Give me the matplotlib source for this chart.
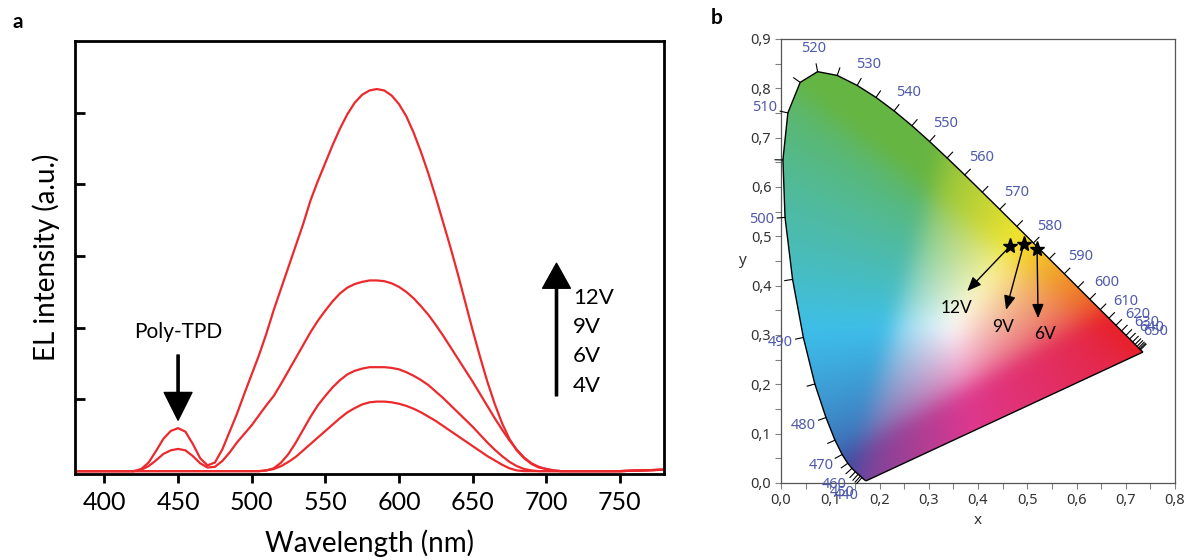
import numpy as np
import matplotlib
matplotlib.use("Agg")
import matplotlib.pyplot as plt
from matplotlib.patches import Polygon
from matplotlib.ticker import MultipleLocator, FuncFormatter

# ---- panel a: EL spectra at several drive voltages ----
WL = [380, 400] + list(range(420, 721, 5)) + [750, 780]

EL_12V = [0.00, 0.00, 0.00, 0.03, 0.12, 0.28, 0.45, 0.56, 0.60, 0.55,
          0.38, 0.18, 0.08, 0.12, 0.30, 0.55, 0.80, 1.08, 1.35, 1.62,
          1.92, 2.25, 2.55, 2.85, 3.15, 3.45, 3.78, 4.05, 4.30, 4.55,
          4.78, 4.98, 5.14, 5.25, 5.31, 5.33, 5.31, 5.24, 5.12, 4.95,
          4.72, 4.45, 4.15, 3.82, 3.47, 3.12, 2.75, 2.36, 1.97, 1.60,
          1.25, 0.94, 0.67, 0.45, 0.29, 0.18, 0.10, 0.05, 0.03, 0.01,
          0.00, 0.00, 0.00, 0.00, 0.02]
EL_9V = [0.00, 0.00, 0.00, 0.02, 0.07, 0.15, 0.24, 0.29, 0.31, 0.29,
         0.21, 0.11, 0.05, 0.06, 0.14, 0.26, 0.40, 0.52, 0.64, 0.78,
         0.92, 1.05, 1.22, 1.40, 1.58, 1.76, 1.94, 2.10, 2.24, 2.37,
         2.48, 2.56, 2.61, 2.64, 2.66, 2.66, 2.65, 2.62, 2.57, 2.50,
         2.41, 2.30, 2.18, 2.04, 1.89, 1.73, 1.57, 1.41, 1.25, 1.08,
         0.91, 0.74, 0.58, 0.43, 0.30, 0.19, 0.11, 0.06, 0.03, 0.01,
         0.00, 0.00, 0.00, 0.00, 0.02]
EL_6V = [0.00, 0.00, 0.00, 0.00, 0.00, 0.00, 0.00, 0.00, 0.00, 0.00,
         0.00, 0.00, 0.00, 0.00, 0.00, 0.00, 0.00, 0.00, 0.00, 0.00,
         0.01, 0.04, 0.12, 0.24, 0.40, 0.58, 0.76, 0.92, 1.05, 1.17,
         1.27, 1.35, 1.40, 1.43, 1.45, 1.45, 1.45, 1.44, 1.42, 1.38,
         1.33, 1.27, 1.20, 1.11, 1.02, 0.92, 0.82, 0.72, 0.62, 0.51,
         0.40, 0.30, 0.21, 0.13, 0.07, 0.03, 0.01, 0.00, 0.00, 0.00,
         0.00, 0.00, 0.00, 0.00, 0.02]
EL_4V = [0.00, 0.00, 0.00, 0.00, 0.00, 0.00, 0.00, 0.00, 0.00, 0.00,
         0.00, 0.00, 0.00, 0.00, 0.00, 0.00, 0.00, 0.00, 0.00, 0.00,
         0.01, 0.03, 0.07, 0.13, 0.20, 0.29, 0.38, 0.47, 0.56, 0.65,
         0.74, 0.82, 0.88, 0.93, 0.96, 0.97, 0.97, 0.96, 0.94, 0.91,
         0.87, 0.82, 0.76, 0.70, 0.63, 0.56, 0.49, 0.42, 0.35, 0.28,
         0.21, 0.15, 0.09, 0.04, 0.01, 0.00, 0.00, 0.00, 0.00, 0.00,
         0.00, 0.00, 0.00, 0.00, 0.02]
VOLTAGES = ["12V", "9V", "6V", "4V"]

# ---- panel b: CIE 1931 spectral locus (nm, x, y) ----
LOCUS_NM = [380, 385, 390, 395, 400, 405, 410, 415, 420, 425, 430, 435,
            440, 445, 450, 455, 460, 465, 470, 475, 480, 485, 490, 495,
            500, 505, 510, 515, 520, 525, 530, 535, 540, 545, 550, 555,
            560, 565, 570, 575, 580, 585, 590, 595, 600, 605, 610, 615,
            620, 625, 630, 635, 640, 645, 650, 655, 660, 665, 670, 675,
            680, 685, 690, 695, 700]
LOCUS_X = [0.1741, 0.1740, 0.1738, 0.1736, 0.1733, 0.1730, 0.1726, 0.1721,
           0.1714, 0.1703, 0.1689, 0.1669, 0.1644, 0.1611, 0.1566, 0.1510,
           0.1440, 0.1355, 0.1241, 0.1096, 0.0913, 0.0687, 0.0454, 0.0235,
           0.0082, 0.0039, 0.0139, 0.0389, 0.0743, 0.1142, 0.1547, 0.1929,
           0.2296, 0.2658, 0.3016, 0.3373, 0.3731, 0.4087, 0.4441, 0.4788,
           0.5125, 0.5448, 0.5752, 0.6029, 0.6270, 0.6482, 0.6658, 0.6801,
           0.6915, 0.7006, 0.7079, 0.7140, 0.7190, 0.7230, 0.7260, 0.7283,
           0.7300, 0.7311, 0.7320, 0.7327, 0.7334, 0.7340, 0.7344, 0.7346,
           0.7347]
LOCUS_Y = [0.0050, 0.0050, 0.0049, 0.0049, 0.0048, 0.0048, 0.0048, 0.0048,
           0.0051, 0.0058, 0.0069, 0.0086, 0.0109, 0.0138, 0.0177, 0.0227,
           0.0297, 0.0399, 0.0578, 0.0868, 0.1327, 0.2007, 0.2950, 0.4127,
           0.5384, 0.6548, 0.7502, 0.8120, 0.8338, 0.8262, 0.8059, 0.7816,
           0.7543, 0.7243, 0.6923, 0.6589, 0.6245, 0.5896, 0.5547, 0.5202,
           0.4866, 0.4544, 0.4242, 0.3965, 0.3725, 0.3514, 0.3340, 0.3197,
           0.3083, 0.2993, 0.2920, 0.2859, 0.2809, 0.2770, 0.2740, 0.2717,
           0.2700, 0.2689, 0.2680, 0.2673, 0.2666, 0.2660, 0.2656, 0.2654,
           0.2653]

# device colour coordinates and where their labels sit
CIE_X = [0.465, 0.493, 0.520]
CIE_Y = [0.480, 0.484, 0.474]
CIE_LABELS = ["12V", "9V", "6V"]
ARROW_TIP = [(0.378, 0.389), (0.457, 0.351), (0.522, 0.334)]
LABEL_POS = [(0.357, 0.355), (0.451, 0.316), (0.536, 0.302)]

# fill shading: white point and the colour given to each corner of the rgb cube
WHITE_XY = (0.35, 0.32)
CUBE_COLORS = {
    (0, 0, 0): (0.00, 0.00, 0.00),
    (1, 0, 0): (0.91, 0.13, 0.16),
    (0, 1, 0): (0.40, 0.71, 0.26),
    (0, 0, 1): (0.24, 0.30, 0.63),
    (1, 1, 0): (0.96, 0.90, 0.18),
    (0, 1, 1): (0.24, 0.75, 0.92),
    (1, 0, 1): (0.87, 0.22, 0.56),
    (1, 1, 1): (1.00, 1.00, 1.00),
}

RED = "#ec2a2e"
WL_BLUE = "#4f5aac"
FONT = ["Lato", "DejaVu Sans"]


def xy_to_linear_rgb(x, y):
    ys = np.maximum(y, 1e-4)
    xyz = np.stack([x / ys, np.ones_like(x), (1 - x - y) / ys], axis=-1)
    m = np.array([[3.2406, -1.5372, -0.4986],
                  [-0.9689, 1.8758, 0.0415],
                  [0.0557, -0.2040, 1.0570]])
    return xyz @ m.T


def blur(img, sigma):
    r = int(3 * sigma)
    k = np.exp(-0.5 * (np.arange(-r, r + 1) / sigma) ** 2)
    k /= k.sum()
    for axis in (0, 1):
        pad = [(0, 0)] * img.ndim
        pad[axis] = (r, r)
        p = np.pad(img, pad, mode="edge")
        n = img.shape[axis]
        acc = np.zeros_like(img)
        for i, w in enumerate(k):
            acc += w * np.take(p, np.arange(i, i + n), axis=axis)
        img = acc
    return img


fig = plt.figure(figsize=(11.86, 5.6), dpi=100)
ax = fig.add_axes([75 / 1186, 86 / 560, 589 / 1186, 433 / 560])

for series in (EL_12V, EL_9V, EL_6V, EL_4V):
    ax.plot(WL, series, color=RED, lw=1.6, solid_joinstyle="round")

ax.set_xlim(380, 780)
ax.set_ylim(-0.04, 6.0)
ax.set_xticks(range(400, 751, 50))
ax.set_yticks([1, 2, 3, 4, 5])
ax.set_yticklabels([])
ax.tick_params(axis="x", direction="out", length=6.5, width=2, labelsize=18, pad=6)
ax.tick_params(axis="y", direction="in", length=7, width=2)
for lab in ax.get_xticklabels():
    lab.set_family(FONT)
for sp in ax.spines.values():
    sp.set_linewidth(2)
ax.set_xlabel("Wavelength (nm)", family=FONT, fontsize=20, labelpad=11)
ax.set_ylabel("EL intensity (a.u.)", family=FONT, fontsize=20)
ax.yaxis.set_label_coords(-0.026, 0.5)

ax.text(450, 1.94, "Poly-TPD", family=FONT, fontsize=15, ha="center", va="center")
ax.annotate("", xy=(450, 0.71), xytext=(450, 1.62),
            arrowprops=dict(width=1.6, headwidth=20, headlength=20, color="k"))
ax.annotate("", xy=(707, 2.9), xytext=(707, 1.05),
            arrowprops=dict(width=1.6, headwidth=20, headlength=18, color="k"))
for i, v in enumerate(VOLTAGES):
    ax.text(718, 2.42 - i * 0.41, v, family=FONT, fontsize=16, ha="left", va="center")

# ---- CIE diagram ----
bx = fig.add_axes([781 / 1186, 77 / 560, 394 / 1186, 444 / 560])
bx.set_xlim(0, 0.8)
bx.set_ylim(0, 0.9)

gx = np.linspace(0, 0.8, 401)
gy = np.linspace(0, 0.9, 451)
xx, yy = np.meshgrid(gx, gy)
white = xy_to_linear_rgb(np.array(WHITE_XY[0]), np.array(WHITE_XY[1]))
lin = np.clip(xy_to_linear_rgb(xx, yy) / white, 0, None)
lin /= np.maximum(lin.max(axis=-1, keepdims=True), 1e-9)
enc = np.where(lin <= 0.0031308, 12.92 * lin, 1.055 * lin ** (1 / 2.4) - 0.055)

fill = np.zeros_like(enc)
for (i, j, k), col in CUBE_COLORS.items():
    w = ((enc[..., 0] if i else 1 - enc[..., 0]) *
         (enc[..., 1] if j else 1 - enc[..., 1]) *
         (enc[..., 2] if k else 1 - enc[..., 2]))
    fill += w[..., None] * np.array(col)
fill = np.clip(blur(fill, 9), 0, 1)

im = bx.imshow(fill, origin="lower", extent=(0, 0.8, 0, 0.9),
               interpolation="bilinear", aspect="auto", zorder=1)
lx = np.array(LOCUS_X)
ly = np.array(LOCUS_Y)
horseshoe = Polygon(np.column_stack([lx, ly]), closed=True, fc="none",
                    ec="k", lw=1.0, zorder=3)
bx.add_patch(horseshoe)
im.set_clip_path(horseshoe)

# wavelength ticks along the locus, pointing outward
tx = np.gradient(lx)
ty = np.gradient(ly)
norm = np.hypot(tx, ty)
nx, ny = ty / norm, -tx / norm
flip = (nx * (lx - 0.33) + ny * (ly - 0.33)) < 0
nx[flip] *= -1
ny[flip] *= -1
for nm, x0, y0, ux, uy in zip(LOCUS_NM, lx, ly, nx, ny):
    if 440 <= nm <= 660:
        bx.plot([x0, x0 + 0.016 * ux], [y0, y0 + 0.016 * uy], color="k",
                lw=0.8, zorder=4, clip_on=False)
    if 440 <= nm <= 650 and nm % 10 == 0:
        bx.text(x0 + 0.048 * ux, y0 + 0.048 * uy, str(nm), color=WL_BLUE,
                fontsize=10.5, family="Noto Sans", ha="center", va="center",
                zorder=5)

for (sx, sy), tip, pos, lab in zip(zip(CIE_X, CIE_Y), ARROW_TIP, LABEL_POS, CIE_LABELS):
    bx.annotate("", xy=tip, xytext=(sx, sy),
                arrowprops=dict(arrowstyle="-|>,head_length=0.85,head_width=0.35",
                                lw=1.0, color="k", shrinkA=3, shrinkB=0),
                zorder=6)
    bx.text(pos[0], pos[1], lab, family=FONT, fontsize=12.5, ha="center",
            va="center", zorder=6)
bx.plot(CIE_X, CIE_Y, ls="none", marker="*", ms=11, color="k", zorder=7)

comma = FuncFormatter(lambda v, p: f"{v:.1f}".replace(".", ","))
bx.xaxis.set_major_locator(MultipleLocator(0.1))
bx.yaxis.set_major_locator(MultipleLocator(0.1))
bx.xaxis.set_minor_locator(MultipleLocator(0.05))
bx.yaxis.set_minor_locator(MultipleLocator(0.05))
bx.xaxis.set_major_formatter(comma)
bx.yaxis.set_major_formatter(comma)
bx.tick_params(which="both", direction="out", length=4, width=0.8,
               color="#808080", labelcolor="#333333", labelsize=10.5, pad=3)
for lab in bx.get_xticklabels() + bx.get_yticklabels():
    lab.set_family("Noto Sans")
for sp in bx.spines.values():
    sp.set_color("#555555")
    sp.set_linewidth(0.9)
bx.set_xlabel("x", family="Noto Sans", fontsize=11, color="#333333", labelpad=4)
bx.text(-0.099, 0.5, "y", transform=bx.transAxes, family="Noto Sans",
        fontsize=11, color="#333333", ha="center", va="center")

fig.text(18 / 1186, 1 - 22 / 560, "a", family=FONT, fontsize=15,
         weight="bold", ha="center", va="center")
fig.text(717 / 1186, 1 - 18 / 560, "b", family=FONT, fontsize=15,
         weight="bold", ha="center", va="center")

fig.savefig("out.png", dpi=100)
